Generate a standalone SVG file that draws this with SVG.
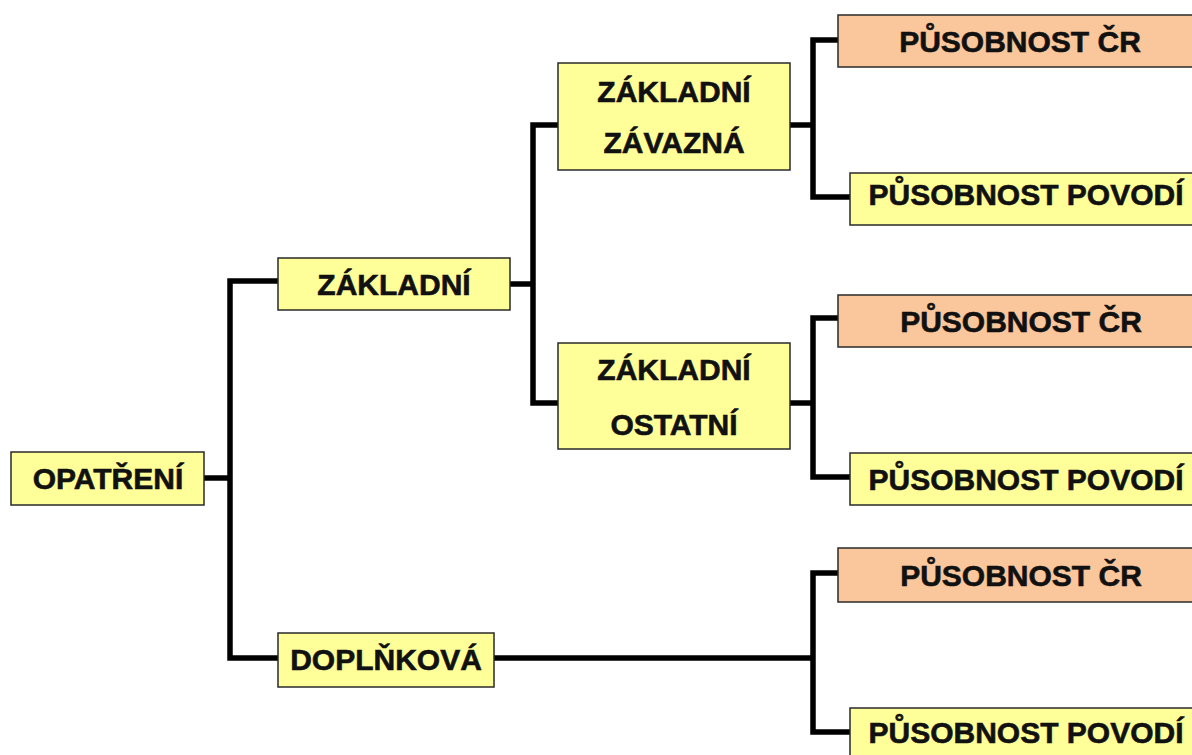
<svg xmlns="http://www.w3.org/2000/svg" width="1192" height="755" viewBox="0 0 1192 755">
  <style>
    .box { stroke: #2a2a2a; stroke-width: 1.5; }
    .yellow { fill: #FFFF99; }
    .orange { fill: #FAC69B; }
    .lbl { font-family: "Liberation Sans", Arial, sans-serif; font-weight: bold; font-size: 30px; fill: #111; stroke: #111; stroke-width: 0.6; text-anchor: middle; }
    .wire { fill: none; stroke: #000; stroke-width: 5.5; stroke-linejoin: miter; }
  </style>
  <rect width="1192" height="755" fill="#FFFFFF"/>

  <!-- connectors: elbow lines between parent and child boxes -->
  <g id="connectors">
    <path class="wire" d="M204 478 H230"/>
    <path class="wire" d="M278 281 H230 V658 H278"/>
    <path class="wire" d="M510 284 H533"/>
    <path class="wire" d="M558 125 H533 V403 H558"/>
    <path class="wire" d="M790 125 H813"/>
    <path class="wire" d="M838 40 H813 V197 H850"/>
    <path class="wire" d="M790 403 H813"/>
    <path class="wire" d="M838 318 H813 V477 H850"/>
    <path class="wire" d="M494 658 H813"/>
    <path class="wire" d="M838 573 H813 V732 H850"/>
  </g>

  <g id="opatreni">
    <rect class="box yellow" x="11" y="452" width="193" height="53"/>
    <text class="lbl" x="108" y="489">OPATŘENÍ</text>
  </g>

  <g id="zakladni">
    <rect class="box yellow" x="278" y="258" width="232" height="52"/>
    <text class="lbl" x="394" y="295">ZÁKLADNÍ</text>
  </g>

  <g id="doplnkova">
    <rect class="box yellow" x="278" y="633" width="216" height="54"/>
    <text class="lbl" x="386" y="670">DOPLŇKOVÁ</text>
  </g>

  <g id="zakladni-zavazna">
    <rect class="box yellow" x="558" y="63" width="232" height="107"/>
    <text class="lbl" x="674" y="102">ZÁKLADNÍ</text>
    <text class="lbl" x="674" y="153">ZÁVAZNÁ</text>
  </g>

  <g id="zakladni-ostatni">
    <rect class="box yellow" x="558" y="343" width="232" height="106"/>
    <text class="lbl" x="674" y="380">ZÁKLADNÍ</text>
    <text class="lbl" x="674" y="435">OSTATNÍ</text>
  </g>

  <g id="zavazna-cr">
    <rect class="box orange" x="838" y="15" width="370" height="52"/>
    <text class="lbl" x="1020" y="52">PŮSOBNOST ČR</text>
  </g>
  <g id="zavazna-povodi">
    <rect class="box yellow" x="850" y="173" width="360" height="52"/>
    <text class="lbl" x="1026" y="205">PŮSOBNOST POVODÍ</text>
  </g>

  <g id="ostatni-cr">
    <rect class="box orange" x="838" y="295" width="370" height="52"/>
    <text class="lbl" x="1021" y="332">PŮSOBNOST ČR</text>
  </g>
  <g id="ostatni-povodi">
    <rect class="box yellow" x="850" y="453" width="360" height="52"/>
    <text class="lbl" x="1026" y="490">PŮSOBNOST POVODÍ</text>
  </g>

  <g id="doplnkova-cr">
    <rect class="box orange" x="838" y="548" width="370" height="54"/>
    <text class="lbl" x="1021" y="586">PŮSOBNOST ČR</text>
  </g>
  <g id="doplnkova-povodi">
    <rect class="box yellow" x="850" y="708" width="360" height="60"/>
    <text class="lbl" x="1026" y="743">PŮSOBNOST POVODÍ</text>
  </g>
</svg>
